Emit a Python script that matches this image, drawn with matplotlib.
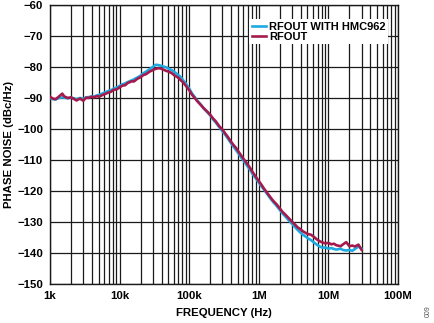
import numpy as np
import matplotlib
matplotlib.use('Agg')
import matplotlib.pyplot as plt
from matplotlib.ticker import FixedLocator, FixedFormatter, LogLocator, NullFormatter

plt.rcParams['font.family'] = ['Liberation Sans', 'DejaVu Sans']
plt.rcParams['font.weight'] = 'bold'

# Offset frequency (kHz)
freq_khz = [1.0, 1.1, 1.2, 1.3, 1.5, 1.6, 1.8, 2.0, 2.2, 2.4, 2.7, 3.0,
            3.3, 3.6, 3.9, 4.3, 4.7, 5.1, 5.6, 6.2, 6.8, 7.5, 8.2, 9.1,
            10, 11, 12, 13, 15, 16, 18, 20, 22, 24, 27, 30,
            33, 36, 39, 43, 47, 51, 56, 62, 68, 75, 82, 91,
            100, 110, 120, 130, 150, 160, 180, 200, 220, 240, 270, 300,
            330, 360, 390, 430, 470, 510, 560, 620, 680, 750, 820, 910,
            1000, 1100, 1200, 1300, 1500, 1600, 1800, 2000, 2200, 2400, 2700, 3000,
            3300, 3600, 3900, 4300, 4700, 5100, 5600, 6200, 6800, 7500, 8200, 9100,
            10000, 11000, 12000, 13000, 15000, 16000, 18000, 20000, 22000, 24000, 27000, 30000]

# RFOUT with HMC962 (dBc/Hz)
pn_hmc962 = [-90.0, -90.4, -90.5, -90.1, -89.8, -89.9, -90.1, -89.9, -90.1, -90.4, -90.0, -90.3,
             -89.8, -89.7, -89.6, -89.5, -89.2, -89.0, -88.6, -88.2, -87.8, -87.5, -87.0, -86.6,
             -86.1, -85.6, -85.3, -84.9, -84.3, -84.0, -83.4, -82.8, -82.0, -81.5, -80.7, -80.0,
             -79.3, -79.4, -79.6, -79.9, -80.1, -80.6, -81.0, -81.7, -82.4, -83.2, -84.3, -85.6,
             -87.0, -88.6, -89.7, -90.8, -92.4, -93.3, -94.5, -95.6, -96.9, -97.9, -99.4, -100.7,
             -101.9, -103.1, -104.3, -105.6, -106.8, -107.9, -109.3, -110.6, -111.9, -113.2, -114.6, -116.0,
             -117.3, -118.6, -119.7, -120.8, -122.7, -123.5, -124.8, -126.1, -127.3, -128.2, -129.5, -130.6,
             -131.6, -132.5, -133.3, -134.1, -134.7, -135.3, -135.8, -136.6, -137.3, -137.9, -138.3, -138.2,
             -138.6, -138.4, -138.7, -138.9, -138.6, -139.0, -139.2, -139.0, -139.3, -138.7, -137.9, -138.6]

# RFOUT (dBc/Hz)
pn_rfout = [-89.6, -90.2, -90.4, -89.8, -88.6, -89.5, -90.0, -89.8, -90.3, -90.8, -90.2, -90.9,
            -89.9, -90.0, -89.6, -89.8, -89.4, -89.6, -89.1, -88.7, -88.3, -88.0, -87.4, -87.2,
            -86.6, -86.0, -85.9, -85.2, -84.6, -84.7, -83.8, -83.3, -82.6, -82.3, -81.5, -81.0,
            -80.6, -80.4, -80.5, -80.9, -81.3, -81.5, -82.0, -82.8, -83.3, -84.2, -85.0, -86.3,
            -87.5, -89.0, -90.0, -91.0, -92.5, -93.2, -94.3, -95.4, -96.6, -97.5, -99.1, -100.2,
            -101.5, -102.6, -103.8, -105.1, -106.1, -107.3, -108.6, -110.0, -111.2, -112.6, -114.0, -115.5,
            -116.8, -118.1, -119.4, -120.4, -122.3, -123.1, -124.3, -125.6, -126.8, -127.6, -128.8, -129.9,
            -130.8, -131.7, -132.2, -133.0, -133.5, -133.9, -134.1, -134.8, -135.6, -136.2, -136.6, -136.9,
            -136.7, -137.2, -137.0, -137.5, -137.8, -137.3, -136.5, -137.8, -137.6, -137.9, -137.3, -139.0]

x_ticks = [1e3, 1e4, 1e5, 1e6, 1e7, 1e8]
x_tick_labels = ['1k', '10k', '100k', '1M', '10M', '100M']
y_ticks = [-150, -140, -130, -120, -110, -100, -90, -80, -70, -60]

freq_hz = np.array(freq_khz) * 1e3

fig = plt.figure(figsize=(4.35, 3.23), dpi=100)
ax = fig.add_axes([0.115, 0.1207, 0.8, 0.864])

ax.semilogx(freq_hz, pn_hmc962, color='#1ea9e1', lw=1.9, label='RFOUT WITH HMC962', zorder=3)
ax.semilogx(freq_hz, pn_rfout, color='#a51a4c', lw=1.9, label='RFOUT', zorder=4)

ax.set_xlim(1e3, 1e8)
ax.set_ylim(-150, -60)

# Grid on every decade and sub-decade line
ax.xaxis.set_major_locator(FixedLocator(x_ticks))
ax.xaxis.set_major_formatter(FixedFormatter(x_tick_labels))
ax.xaxis.set_minor_locator(LogLocator(base=10, subs=np.arange(2, 10), numticks=20))
ax.xaxis.set_minor_formatter(NullFormatter())
ax.set_yticks(y_ticks)
ax.set_yticklabels(['\u2212%d' % abs(v) for v in y_ticks])
ax.grid(True, which='both', axis='x', color='#1a1a1a', lw=0.9)
ax.grid(True, which='major', axis='y', color='#1a1a1a', lw=0.9)
ax.tick_params(which='both', length=0, labelsize=8.2, pad=5)
for lab in ax.get_xticklabels() + ax.get_yticklabels():
    lab.set_fontweight('bold')
for sp in ax.spines.values():
    sp.set_linewidth(1.0)
    sp.set_color('#1a1a1a')

ax.set_xlabel('FREQUENCY (Hz)', fontsize=8.2, fontweight='bold', labelpad=5)
ax.set_ylabel('PHASE NOISE (dBc/Hz)', fontsize=8.2, fontweight='bold')
ax.yaxis.set_label_coords(-0.104, 0.5)

leg = ax.legend(loc='upper right', bbox_to_anchor=(0.972, 0.95), fontsize=8,
                frameon=True, fancybox=False, framealpha=1.0, edgecolor='none',
                facecolor='white', handlelength=1.2, handletextpad=0.3,
                borderpad=0.25, labelspacing=0.0, borderaxespad=0.0)
leg.set_zorder(5)
for t in leg.get_texts():
    t.set_fontweight('bold')

fig.text(0.984, 0.02, '009', rotation=90, fontsize=5, color='#555555',
         ha='center', va='bottom', fontweight='normal')

fig.savefig('out.png', dpi=100)
